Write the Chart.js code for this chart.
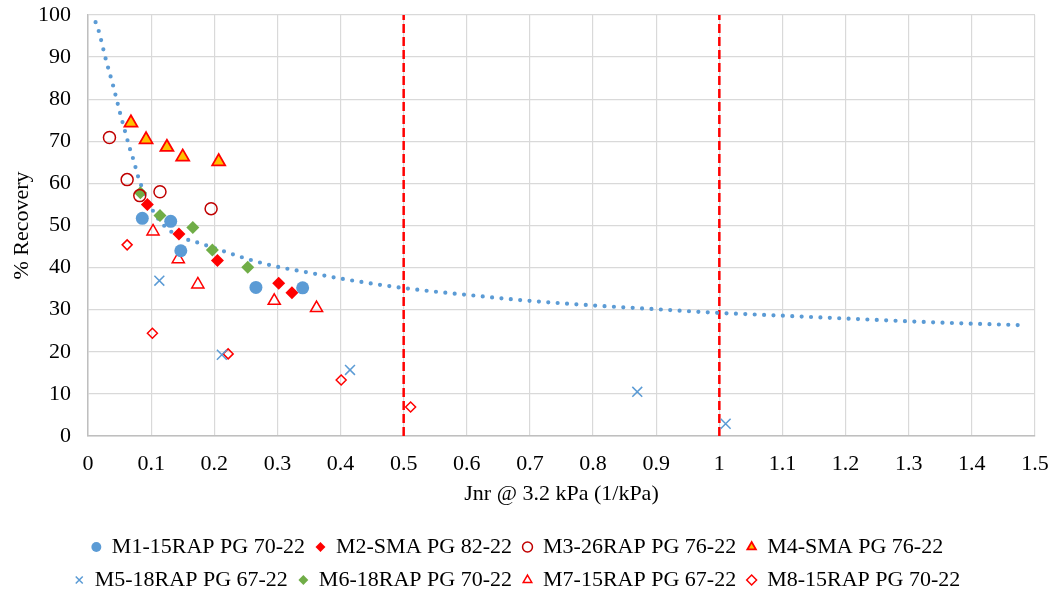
<!DOCTYPE html>
<html><head><meta charset="utf-8">
<script src="https://cdn.jsdelivr.net/npm/chart.js@4/dist/chart.umd.min.js"></script>
<style>html,body{margin:0;padding:0;overflow:hidden;background:#fff}#wrap{width:1055px;height:601px;position:relative}</style>
</head><body><div id="wrap"><canvas id="c"></canvas></div>
<script>
// ---- data ----
const seriesNames = ['M1-15RAP PG 70-22','M2-SMA PG 82-22','M3-26RAP PG 76-22','M4-SMA PG 76-22',
                     'M5-18RAP PG 67-22','M6-18RAP PG 70-22','M7-15RAP PG 67-22','M8-15RAP PG 70-22'];
const m1X = [0.086, 0.131, 0.147, 0.266, 0.340];
const m1Y = [51.7, 51.0, 44.0, 35.3, 35.2];
const m2X = [0.094, 0.144, 0.205, 0.302, 0.323];
const m2Y = [55.0, 48.0, 41.7, 36.3, 34.0];
const m3X = [0.034, 0.062, 0.082, 0.114, 0.195];
const m3Y = [70.9, 60.9, 57.1, 58.0, 54.0];
const m4X = [0.068, 0.092, 0.125, 0.150, 0.207];
const m4Y = [74.4, 70.4, 68.6, 66.3, 65.2];
const m5X = [0.113, 0.212, 0.415, 0.870, 1.010];
const m5Y = [36.9, 19.3, 15.7, 10.5, 2.9];
const m6X = [0.083, 0.114, 0.166, 0.197, 0.253];
const m6Y = [57.8, 52.4, 49.5, 44.2, 40.1];
const m7X = [0.103, 0.143, 0.174, 0.295, 0.362];
const m7Y = [48.6, 42.0, 36.0, 32.1, 30.4];
const m8X = [0.062, 0.102, 0.222, 0.401, 0.511];
const m8Y = [45.4, 24.4, 19.5, 13.3, 6.9];
// dotted trend line
const trendX = [0.012, 0.017, 0.028, 0.040, 0.051, 0.059, 0.067, 0.072, 0.080, 0.091, 0.104, 0.123, 0.148, 0.177, 0.205, 0.247, 0.291, 0.350, 0.400, 0.468, 0.513, 0.602, 0.692, 0.781, 0.901, 0.991, 1.096, 1.201, 1.306, 1.396, 1.486];
const trendY = [98.3, 96.2, 89.6, 83.1, 76.6, 72.2, 67.9, 65.6, 61.3, 57.1, 53.2, 49.6, 47.2, 45.8, 44.4, 42.3, 40.5, 38.8, 37.4, 35.8, 34.9, 33.5, 32.2, 31.2, 30.1, 29.3, 28.6, 27.9, 27.2, 26.7, 26.3];
// red dashed limit lines
const limitX = [0.5, 1.0];
const limitYRange = [0, 100];
const xTickLabels = ['0','0.1','0.2','0.3','0.4','0.5','0.6','0.7','0.8','0.9','1','1.1','1.2','1.3','1.4','1.5'];
const yTickLabels = ['0','10','20','30','40','50','60','70','80','90','100'];

// ---- chart ----
const pts = (xs, ys) => xs.map((x, i) => ({x: x, y: ys[i]}));
const FONT = {family: '"Liberation Serif","Times New Roman",serif', size: 22};
const BLUE = '#5B9BD5', RED = '#FF0000';
const mk = (i, xs, ys, style, r, bg, bc, bw) => ({
  type: 'scatter', label: seriesNames[i], data: pts(xs, ys), order: 0,
  pointStyle: style, pointRadius: r, pointHoverRadius: r,
  backgroundColor: bg, borderColor: bc, borderWidth: bw,
  pointBackgroundColor: bg, pointBorderColor: bc, pointBorderWidth: bw, showLine: false
});
const datasets = [
  mk(0, m1X, m1Y, 'circle', 6.5, BLUE, BLUE, 0),
  mk(1, m2X, m2Y, 'rectRot', 6.5, RED, RED, 0),
  mk(2, m3X, m3Y, 'circle', 6, 'rgba(0,0,0,0)', '#C00000', 1.5),
  mk(3, m4X, m4Y, 'triangle', 7.5, '#FFC000', RED, 1.75),
  mk(4, m5X, m5Y, 'crossRot', 7, BLUE, BLUE, 1.5),
  mk(5, m6X, m6Y, 'rectRot', 6.5, '#70AD47', '#70AD47', 0),
  mk(6, m7X, m7Y, 'triangle', 7, 'rgba(0,0,0,0)', RED, 1.5),
  mk(7, m8X, m8Y, 'rectRot', 5, 'rgba(0,0,0,0)', RED, 1.5),
  {type: 'line', label: 'trend', data: pts(trendX, trendY), order: 1,
   borderColor: BLUE, borderWidth: 4.2, borderDash: [0, 9.4], borderCapStyle: 'round',
   pointRadius: 0, cubicInterpolationMode: 'monotone', fill: false},
  ...limitX.map(lx => ({type: 'line', label: 'limit', order: 2,
   data: limitYRange.map(yv => ({x: lx, y: yv})),
   borderColor: RED, borderWidth: 2.5, borderDash: [9, 4], pointRadius: 0, fill: false}))
];

new Chart(document.getElementById('c'), {
  type: 'scatter',
  data: {datasets: datasets},
  options: {
    responsive: true, maintainAspectRatio: false, animation: false,
    layout: {padding: {left: 0, right: 20, top: 15, bottom: 0}},
    scales: {
      x: {type: 'linear', min: 0, max: 1.5,
        ticks: {stepSize: 0.1, font: FONT, color: '#000', padding: 15, maxRotation: 0, autoSkip: false,
          callback: (v, i) => xTickLabels[i]},
        grid: {color: '#d9d9d9', lineWidth: 1.2, drawTicks: false},
        border: {color: '#bfbfbf', width: 1.5},
        title: {display: true, text: 'Jnr @ 3.2 kPa (1/kPa)', font: FONT, color: '#000', padding: {top: 0, bottom: 17.8}},
        afterFit: s => { s.height = 89; s.paddingLeft = 0; s.paddingRight = 0; }
      },
      y: {type: 'linear', min: 0, max: 100,
        ticks: {stepSize: 10, font: FONT, color: '#000', padding: 17,
          callback: (v, i) => yTickLabels[i]},
        grid: {color: '#d9d9d9', lineWidth: 1.2, drawTicks: false},
        border: {color: '#bfbfbf', width: 1.5},
        title: {display: true, text: '% Recovery', font: FONT, color: '#000', padding: {top: 8.8, bottom: 0}},
        afterFit: s => { s.width = 88; s.paddingTop = 0; s.paddingBottom = 0; }
      }
    },
    plugins: {
      legend: {position: 'bottom',
        labels: {usePointStyle: true, boxWidth: 9, boxHeight: 7, padding: 11, font: FONT, color: '#000',
          filter: item => item.datasetIndex < 8}},
      tooltip: {enabled: false}
    }
  }
});
</script></body></html>
